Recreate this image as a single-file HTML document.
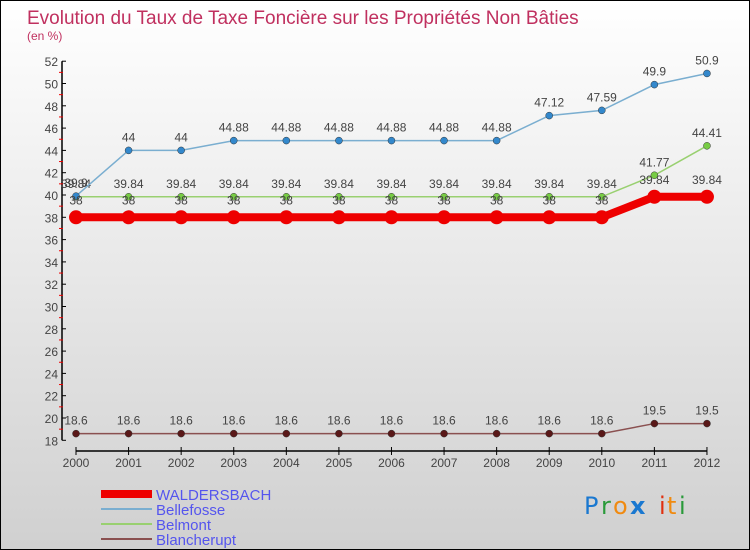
<!DOCTYPE html>
<html><head><meta charset="utf-8"><style>
html,body{margin:0;padding:0}
body{width:750px;height:550px;overflow:hidden;font-family:"Liberation Sans",sans-serif}
#wrap{position:relative;width:748px;height:548px;border:1px solid #000;background:linear-gradient(#ffffff,#d0d0d0)}
svg{position:absolute;left:0;top:0}
</style></head><body>
<div id="wrap">
<svg id="chart" width="748" height="548">
<text x="26" y="23" font-size="19" fill="#c0305f">Evolution du Taux de Taxe Foncière sur les Propriétés Non Bâties</text>
<text x="26" y="39" font-size="12" fill="#c0305f">(en %)</text>
<g id="axes"></g>
<g id="series"></g>
<g id="legend">
<rect x="100" y="489" width="51" height="8" fill="#e00"/>
<text x="155" y="499" font-size="15" fill="#5555ee">WALDERSBACH</text>
<rect x="100" y="507" width="51" height="2" fill="#7aaed0"/>
<text x="155" y="514" font-size="15" fill="#5555ee">Bellefosse</text>
<rect x="100" y="522" width="51" height="2" fill="#99d070"/>
<text x="155" y="529" font-size="15" fill="#5555ee">Belmont</text>
<rect x="100" y="537" width="51" height="2" fill="#8a5050"/>
<text x="155" y="544" font-size="15" fill="#5555ee">Blancherupt</text>
</g>
<g font-size="24" font-family="'DejaVu Sans',sans-serif">
<text x="583" y="513" fill="#1a78d0">P</text><text x="600" y="513" fill="#2a9a3a">r</text><text x="612" y="513" fill="#f08a10">o</text><text x="629" y="513" fill="#1a78d0" font-weight="bold">x</text><text x="658" y="513" fill="#e03010">i</text><text x="666" y="513" fill="#f08a10">t</text><text x="678" y="513" fill="#2a9a3a">i</text>
</g>
</svg>
</div>
<script>
const years=[2000,2001,2002,2003,2004,2005,2006,2007,2008,2009,2010,2011,2012];
const waldersbach=[38,38,38,38,38,38,38,38,38,38,38,39.84,39.84];
const bellefosse=[39.9,44,44,44.88,44.88,44.88,44.88,44.88,44.88,47.12,47.59,49.9,50.9];
const belmont=[39.84,39.84,39.84,39.84,39.84,39.84,39.84,39.84,39.84,39.84,39.84,41.77,44.41];
const blancherupt=[18.6,18.6,18.6,18.6,18.6,18.6,18.6,18.6,18.6,18.6,18.6,19.5,19.5];
const yTicks=[18,20,22,24,26,28,30,32,34,36,38,40,42,44,46,48,50,52];
const NS="http://www.w3.org/2000/svg";
const X=i=>75+i*52.58;
const Y=v=>194-(v-40)*11.15;
function mk(tag,attrs,parent){const e=document.createElementNS(NS,tag);for(const k in attrs)e.setAttribute(k,attrs[k]);parent.appendChild(e);return e;}
const axes=document.getElementById('axes'),ser=document.getElementById('series');
let a=mk('line',{x1:61,y1:Y(52),x2:61,y2:Y(18),stroke:'#000','stroke-width':1.5},axes);


a=mk('line',{x1:X(0),y1:450,x2:X(12),y2:450,stroke:'#000','stroke-width':1.5},axes);


yTicks.forEach(v=>{
 mk('line',{x1:61,y1:Y(v),x2:65,y2:Y(v),stroke:'#000'},axes);
 if(v<52)mk('line',{x1:58,y1:Y(v+1),x2:62,y2:Y(v+1),stroke:'#e00'},axes);
 const t=mk('text',{x:57,y:Y(v)+5,'font-size':12,fill:'#444','text-anchor':'end'},axes);
 t.textContent=v;
 
 
});
years.forEach((y,i)=>{
 mk('line',{x1:X(i),y1:446,x2:X(i),y2:454,stroke:'#000'},axes);
 const t=mk('text',{x:X(i),y:466,'font-size':12,fill:'#444','text-anchor':'middle'},axes);
 t.textContent=y;
 
 
});
function draw(vals,name,color,w,r,dotFill,labOff){
 const g=mk('g',{},ser);
 
 
 const l=mk('polyline',{points:vals.map((v,i)=>X(i)+','+Y(v)).join(' '),fill:'none',stroke:color,'stroke-width':w},g);
 
 
 vals.forEach((v,i)=>{
  const c=mk('circle',{cx:X(i),cy:Y(v),r:r,fill:dotFill,stroke:w>3?'none':'#333','stroke-width':0.5},g);
  
  
  const t=mk('text',{x:X(i),y:Y(v)-labOff,'font-size':12,fill:'#444','text-anchor':'middle'},g);
  t.textContent=v;
  
  
 });
}
draw(blancherupt,'blancherupt','#8a5050',1.5,3.5,'#5a1818',9);
draw(belmont,'belmont','#99d070',1.5,3.5,'#77cc44',9);
draw(bellefosse,'bellefosse','#7aaed0',1.5,3.5,'#3388cc',9);
draw(waldersbach,'waldersbach','#e00',8,7,'#e00',13);
</script>
</body></html>
